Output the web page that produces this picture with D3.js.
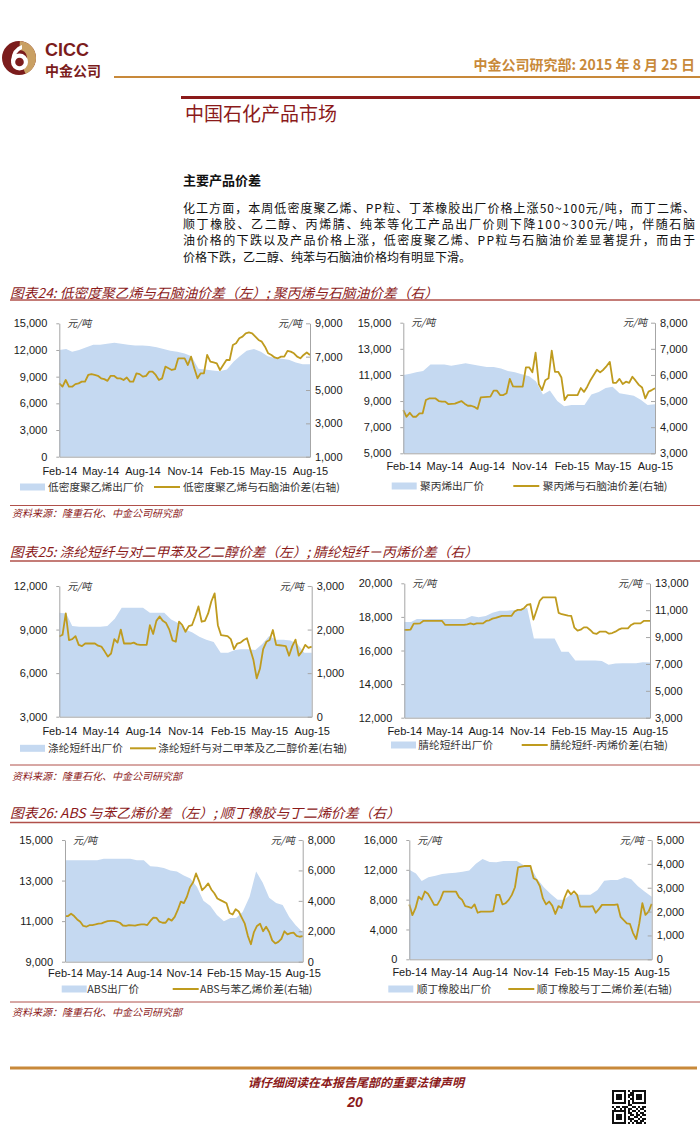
<!DOCTYPE html>
<html>
<head>
<meta charset="utf-8">
<script src="https://cdn.jsdelivr.net/npm/d3@7"></script>
<style>
  body { margin: 0; background: #fff; }
  svg { display: block; }
</style>
</head>
<body>
<div id="page"></div>
<script>
// ---- x categories ----
const monthLabels = ["Feb-14", "May-14", "Aug-14", "Nov-14", "Feb-15", "May-15", "Aug-15"];
const halfMonths = d3.range(37).map(i => new Date(2014, 1 + (i >> 1), i % 2 ? 16 : 1));
const weeks = d3.range(79).map(i => d3.timeDay.offset(new Date(2014, 1, 1), i * 7));

// ---- chart 24 left: LDPE ----
const ldpePrice = [12000,12100,11800,12000,12300,12600,12600,12700,12800,12700,12600,12500,12500,12450,12300,12100,11900,11800,11600,11300,9900,9800,9700,9600,9800,10700,11300,11900,12100,11800,11300,11100,11000,10900,10600,10400,10400];
const ldpeSpread = [5400,5200,5600,5200,5200,5350,5400,5500,5500,5900,
  5950,5900,5850,5700,5650,5550,5850,5850,5700,5700,
  5600,5750,5500,5500,6000,5950,5800,5850,6100,6100,
  5900,5600,5700,6400,6300,6200,6250,6900,6900,6900,
  6500,7000,6300,5700,6000,6000,7100,6700,6650,6600,
  6200,6500,6800,6800,7700,7800,8100,8200,8400,8450,
  8400,8200,8000,7900,7600,7200,7100,6950,6900,7000,
  7000,7350,7300,7200,7000,6900,7100,7250,7100];
const ldpeTicks = [0, 3000, 6000, 9000, 12000, 15000];
const ldpeSpreadTicks = [1000, 3000, 5000, 7000, 9000];

// ---- chart 24 right: PP ----
const ppPrice = [11000,11100,11200,11300,11800,11800,11800,11700,11800,11900,11800,11700,11600,11600,11500,11300,11200,11050,10900,10500,9500,9800,9000,8600,8700,8700,8700,9500,9700,10000,10100,9600,9500,9400,9100,8700,8750];
const ppSpread = [4650,4400,4550,4400,4400,4530,4530,5040,5100,5100,
  5100,5000,4980,4980,4880,4890,4900,4950,5000,4900,
  4820,4820,4780,4700,5140,5150,5160,5170,5400,5400,
  5230,5230,5300,5850,5560,5550,5550,5550,6290,6290,
  6100,6850,5650,5420,5800,5870,6930,6120,6120,5900,
  5040,5230,5230,5230,5230,5500,5350,5550,5800,6000,
  6200,6100,6200,6340,6500,5700,5700,5850,5650,5740,
  5700,5930,5780,5620,5520,5100,5360,5420,5490];
const ppTicks = [5000, 7000, 9000, 11000, 13000, 15000];
const ppSpreadTicks = [3000, 4000, 5000, 6000, 7000, 8000];

// ---- chart 25 left: polyester staple fibre ----
const psfPrice = [10150,10100,9250,9200,9200,9200,9200,9250,9750,10500,10500,10500,10500,10150,10150,10150,9700,9450,9000,8800,8500,8300,8150,7400,7400,7600,7650,7650,7600,8000,8550,8300,8300,8250,8000,7400,7400];
const psfSpread = [1840,1880,2370,1760,1780,1850,1650,1620,1680,1680,
  1680,1680,1630,1610,1500,1380,1450,1780,1700,2000,
  1680,1680,1680,1700,1660,1650,1650,1650,2100,1900,
  2200,2300,2200,2150,2000,1750,1720,2180,2100,1950,
  2080,2100,2300,2530,2180,2200,2370,2650,2830,2100,
  1870,1860,1850,1780,1550,1680,1700,1760,1800,1550,
  1300,880,1100,1550,1720,1760,1990,1650,1640,1630,
  1620,1400,1620,1770,1400,1500,1650,1580,1610];
const psfTicks = [3000, 6000, 9000, 12000];
const psfSpreadTicks = [0, 1000, 2000, 3000];

// ---- chart 25 right: acrylic staple fibre ----
const acrylicPrice = [17700,17700,17880,17880,17880,17880,17880,17880,17880,17880,18050,17980,18050,18250,18370,18370,18400,18400,18550,16720,16720,16720,16720,15930,15930,15400,15400,15400,15400,15380,15150,15230,15240,15240,15240,15300,15280];
const acrylicSpread = [9530,9530,9560,10000,10000,10020,10200,10200,10200,10200,
  10200,10200,10200,9900,9900,9900,9900,9900,9900,9900,
  9950,10020,9950,10020,10020,10020,10200,10250,10370,10420,
  10500,10570,10570,10570,10570,10900,11020,11020,11150,11390,
  11460,10300,11000,11700,11960,11960,11960,11960,11960,10800,
  10700,10650,10600,10570,9700,9480,9550,9720,9720,9530,
  9300,9230,9400,9400,9400,9250,9300,9400,9550,9650,
  9650,9650,9900,10020,10020,10020,10200,10200,10200];
const acrylicTicks = [12000, 14000, 16000, 18000, 20000];
const acrylicSpreadTicks = [3000, 5000, 7000, 9000, 11000, 13000];

// ---- chart 26 left: ABS ----
const absPrice = [14000,14000,14000,14000,14000,14000,14080,14080,14080,14080,14080,14000,14000,13700,13680,13620,13500,13450,13250,13100,12700,12000,11750,11300,11000,11150,11150,11450,12200,13450,12900,12150,11900,11800,11200,10800,10450];
const absSpread = [3000,3000,3150,3000,2780,2630,2350,2300,2400,2410,
  2450,2500,2520,2600,2670,2680,2680,2630,2560,2380,
  2350,2410,2390,2370,2420,2460,2460,2410,2680,2900,
  2880,2630,2560,2560,2830,2700,2950,3400,3950,3850,
  4270,4900,5200,5800,5300,4700,4900,5150,4750,4500,
  4150,4050,3950,3840,3200,3100,3450,3300,2900,2500,
  1700,1150,1950,2350,2500,2000,2300,1950,1400,1200,
  1300,1500,2000,1800,1880,1910,1700,1640,1680];
const absTicks = [9000, 11000, 13000, 15000];
const absSpreadTicks = [0, 2000, 4000, 6000, 8000];

// ---- chart 26 right: butadiene rubber ----
const brPrice = [12000,11500,10500,11000,11200,11450,11530,11620,11750,11900,12800,13450,13050,13000,13180,13180,13180,12650,12400,10800,9650,8800,7980,7980,8800,8650,8650,8650,9300,10550,10640,10640,11000,10750,9800,9100,8400];
const brSpread = [2300,1850,2140,2630,2500,2840,2750,2520,2280,2280,
  2510,2840,2840,2840,2840,2840,2600,2490,2230,2200,
  2150,2300,1950,2000,2000,2000,2000,2020,2700,2700,
  2300,2350,2490,2700,3020,3850,3880,3910,3910,3910,
  3400,3320,3070,2550,2300,2420,2250,1900,2230,2150,
  2600,2900,2720,2850,2700,2210,2210,2210,2210,2230,
  1950,2100,2280,2280,2280,2280,2280,2300,1780,1640,
  1510,1480,1100,850,1500,2350,1860,2000,2320];
const brTicks = [0, 4000, 8000, 12000, 16000];
const brSpreadTicks = [0, 1000, 2000, 3000, 4000, 5000];

const legendNames = [
  ["低密度聚乙烯出厂价", "低密度聚乙烯与石脑油价差(右轴)"],
  ["聚丙烯出厂价", "聚丙烯与石脑油价差(右轴)"],
  ["涤纶短纤出厂价", "涤纶短纤与对二甲苯及乙二醇价差(右轴)"],
  ["腈纶短纤出厂价", "腈纶短纤-丙烯价差(右轴)"],
  ["ABS出厂价", "ABS与苯乙烯价差(右轴)"],
  ["顺丁橡胶出厂价", "顺丁橡胶与丁二烯价差(右轴)"]
];
const figureTitles = [
  "图表24: 低密度聚乙烯与石脑油价差（左）; 聚丙烯与石脑油价差（右）",
  "图表25: 涤纶短纤与对二甲苯及乙二醇价差（左）; 腈纶短纤－丙烯价差（右）",
  "图表26: ABS 与苯乙烯价差（左）; 顺丁橡胶与丁二烯价差（右）"
];
const paragraph = [
  "化工方面，本周低密度聚乙烯、PP粒、丁苯橡胶出厂价格上涨50~100元/吨，而丁二烯、",
  "顺丁橡胶、乙二醇、丙烯腈、纯苯等化工产品出厂价则下降100~300元/吨，伴随石脑",
  "油价格的下跌以及产品价格上涨，低密度聚乙烯、PP粒与石脑油价差显著提升，而由于",
  "价格下跌，乙二醇、纯苯与石脑油价格均有明显下滑。"
];
const qrRows = [
  "11111110101111111","10000010011000001","10111010111011101","10111010101011101",
  "10111010011011101","10000010101000001","11111110101111111","00000000110000000",
  "10110111001101011","01001010110010110","11111110101101001","10000010110010110",
  "10111010011011011","10111010100110100","10111010111001011","10000010010110110",
  "11111110101011101"
];

// ---- page ----
const W = 700, H = 1134;
const CJK = "'Noto Sans CJK SC', sans-serif";
const NUM = "'Liberation Sans', Arial, sans-serif";
const RED = "#8B1A1A", ORANGE = "#C8893A", AREA = "#C5D9F1", LINE = "#BF9B1E", AXIS = "#A6A6A6";

const svg = d3.select("#page").append("svg").attr("width", W).attr("height", H);

// logo
const logo = svg.append("g").attr("transform", "translate(19,58)");
logo.append("circle").attr("r", 17).attr("fill", "#7B1C1C");
logo.append("path")
  .attr("d", d3.arc().innerRadius(8).outerRadius(17).startAngle(0.05).endAngle(2.75)())
  .attr("fill", "#C9A063");
logo.append("circle").attr("cx", 0.5).attr("cy", 4).attr("r", 8.5).attr("fill", "#fff");
logo.append("circle").attr("cx", 0.5).attr("cy", 4).attr("r", 4.3).attr("fill", "#7B1C1C");
logo.append("path").attr("d", "M-8,3 Q-7,-10 3,-13 L3,-9 Q-4,-6 -4,3 Z").attr("fill", "#fff");
svg.append("text").attr("x", 45).attr("y", 55.5).text("CICC")
  .style("font-family", NUM).style("font-weight", "bold").style("font-size", "18px").attr("fill", "#7B1C1C");
svg.append("text").attr("x", 45).attr("y", 76).text("中金公司")
  .style("font-family", CJK).style("font-weight", "bold").style("font-size", "14px").attr("fill", "#7B1C1C");

// header
svg.append("text").attr("x", 695).attr("y", 70).attr("text-anchor", "end")
  .text("中金公司研究部: 2015 年 8 月 25 日")
  .style("font-family", CJK).style("font-weight", "bold").style("font-size", "14px").attr("fill", ORANGE);
svg.append("line").attr("x1", 114).attr("x2", 700).attr("y1", 77).attr("y2", 77)
  .attr("stroke", ORANGE).attr("stroke-width", 2);
svg.append("line").attr("x1", 181).attr("x2", 700).attr("y1", 97.5).attr("y2", 97.5)
  .attr("stroke", RED).attr("stroke-width", 3);
svg.append("text").attr("x", 185).attr("y", 121).text("中国石化产品市场")
  .style("font-family", CJK).style("font-size", "19px").attr("fill", RED);
svg.append("text").attr("x", 183).attr("y", 185).text("主要产品价差")
  .style("font-family", CJK).style("font-weight", "bold").style("font-size", "13px").attr("fill", "#111");

// body paragraph: one text block, justified lines as tspans
const para = svg.append("text")
  .style("font-family", CJK).style("font-size", "12px").attr("fill", "#111");
para.selectAll("tspan").data(paragraph).enter().append("tspan")
  .attr("x", 183)
  .attr("y", (d, i) => 213 + i * 16.2)
  .attr("textLength", (d, i) => i < paragraph.length - 1 ? 512 : null)
  .attr("lengthAdjust", "spacing")
  .text(d => d);

// figure titles and separators
const sections = [
  { titleY: 293, lineY: 300, srcLineY: 505.5, srcY: 513, titleEnd: 438 },
  { titleY: 552.5, lineY: 561, srcLineY: 765, srcY: 776, titleEnd: 478 },
  { titleY: 813, lineY: 822.5, srcLineY: 1002, srcY: 1012, titleEnd: 400 }
];
sections.forEach((s, i) => {
  svg.append("text").attr("x", 10).attr("y", s.titleY).attr("dy", "0.35em")
    .attr("textLength", s.titleEnd - 10).attr("lengthAdjust", "spacingAndGlyphs")
    .text(figureTitles[i])
    .style("font-family", CJK).style("font-style", "italic").style("font-size", "13.5px").attr("fill", RED);
  svg.append("line").attr("x1", 10).attr("x2", 700).attr("y1", s.lineY).attr("y2", s.lineY)
    .attr("stroke", "#B0504A").attr("stroke-width", 1.3);
  svg.append("line").attr("x1", 10).attr("x2", 700).attr("y1", s.srcLineY).attr("y2", s.srcLineY)
    .attr("stroke", "#B0504A").attr("stroke-width", 1);
  svg.append("text").attr("x", 12).attr("y", s.srcY).attr("dy", "0.35em")
    .text("资料来源：隆重石化、中金公司研究部")
    .style("font-family", CJK).style("font-style", "italic").style("font-size", "10px").attr("fill", RED);
});

// charts
const charts = [
  { area: ldpePrice, line: ldpeSpread, lt: ldpeTicks, rt: ldpeSpreadTicks,
    x0: 59.3, x1: 310, yTop: 323.3, yBot: 456.7, xLab: 471, legY: 487, sw1: 20, t1: 48, sw2: 154, t2: 183 },
  { area: ppPrice, line: ppSpread, lt: ppTicks, rt: ppSpreadTicks,
    x0: 403.3, x1: 655, yTop: 322.7, yBot: 453.3, xLab: 466, legY: 486, sw1: 391.7, t1: 420, sw2: 513.3, t2: 542.7 },
  { area: psfPrice, line: psfSpread, lt: psfTicks, rt: psfSpreadTicks,
    x0: 59.3, x1: 311.7, yTop: 586, yBot: 716.7, xLab: 730.7, legY: 748.3, sw1: 20, t1: 48, sw2: 130, t2: 158.3 },
  { area: acrylicPrice, line: acrylicSpread, lt: acrylicTicks, rt: acrylicSpreadTicks,
    x0: 404.3, x1: 650, yTop: 583.3, yBot: 717.7, xLab: 730.7, legY: 745, sw1: 391, t1: 418.3, sw2: 521.7, t2: 550 },
  { area: absPrice, line: absSpread, lt: absTicks, rt: absSpreadTicks,
    x0: 65, x1: 302.7, yTop: 840, yBot: 961.7, xLab: 973.3, legY: 989, sw1: 61.7, t1: 87.3, sw2: 172.7, t2: 200 },
  { area: brPrice, line: brSpread, lt: brTicks, rt: brSpreadTicks,
    x0: 409.3, x1: 651.7, yTop: 840, yBot: 959.3, xLab: 971.7, legY: 989, sw1: 388.3, t1: 416.7, sw2: 508.3, t2: 536.7 }
];

const parseMonth = d3.timeParse("%b-%y");
const monthTicks = monthLabels.map(parseMonth);

charts.forEach((c, ci) => {
  const g = svg.append("g");
  const x = d3.scaleTime().domain([halfMonths[0], halfMonths[halfMonths.length - 1]]).range([c.x0, c.x1]);
  const yL = d3.scaleLinear().domain([c.lt[0], c.lt[c.lt.length - 1]]).range([c.yBot, c.yTop]);
  const yR = d3.scaleLinear().domain([c.rt[0], c.rt[c.rt.length - 1]]).range([c.yBot, c.yTop]);

  g.append("path").datum(c.area)
    .attr("d", d3.area().x((d, i) => x(halfMonths[i])).y0(c.yBot).y1(d => yL(d)))
    .attr("fill", AREA);

  g.append("path").datum(c.line)
    .attr("d", d3.line().x((d, i) => x(weeks[i])).y(d => yR(d)))
    .attr("fill", "none").attr("stroke", LINE).attr("stroke-width", 1.8)
    .attr("stroke-linejoin", "round");

  // bottom axis
  const xa = g.append("g").attr("transform", `translate(0,${c.yBot})`)
    .call(d3.axisBottom(x).tickValues(monthTicks).tickFormat((d, i) => monthLabels[i]).tickSize(0));
  xa.selectAll("text").attr("y", c.xLab - c.yBot).attr("dy", "0.35em");

  // left axis
  const la = g.append("g").attr("transform", `translate(${c.x0},0)`)
    .call(d3.axisLeft(yL).tickValues(c.lt).tickFormat(d3.format(",")).tickSizeInner(3).tickSizeOuter(0).tickPadding(9));

  // right axis
  const ra = g.append("g").attr("transform", `translate(${c.x1},0)`)
    .call(d3.axisRight(yR).tickValues(c.rt).tickFormat(d3.format(",")).tickSizeInner(-4).tickSizeOuter(0).tickPadding(5));

  [xa, la, ra].forEach(a => {
    a.select(".domain").attr("stroke", AXIS);
    a.selectAll(".tick line").attr("stroke", AXIS);
    a.selectAll("text").style("font-family", NUM).style("font-size", "11px").attr("fill", "#1a1a1a");
  });

  // unit labels
  g.append("text").attr("x", c.x0 + 8).attr("y", c.yTop).attr("dy", "0.35em").text("元/吨")
    .style("font-family", CJK).style("font-style", "italic").style("font-size", "10px").attr("fill", "#333");
  g.append("text").attr("x", c.x1 - 8).attr("y", c.yTop).attr("dy", "0.35em").attr("text-anchor", "end").text("元/吨")
    .style("font-family", CJK).style("font-style", "italic").style("font-size", "10px").attr("fill", "#333");

  // legend
  g.append("rect").attr("x", c.sw1).attr("y", c.legY - 3.5).attr("width", 25).attr("height", 7).attr("fill", AREA);
  g.append("text").attr("x", c.t1).attr("y", c.legY).attr("dy", "0.35em").text(legendNames[ci][0])
    .style("font-family", CJK).style("font-size", "10.7px").attr("fill", "#333");
  g.append("line").attr("x1", c.sw2).attr("x2", c.sw2 + 26).attr("y1", c.legY).attr("y2", c.legY)
    .attr("stroke", LINE).attr("stroke-width", 2);
  g.append("text").attr("x", c.t2).attr("y", c.legY).attr("dy", "0.35em").text(legendNames[ci][1])
    .style("font-family", CJK).style("font-size", "10.7px").attr("fill", "#333");
});

// footer
svg.append("line").attr("x1", 10).attr("x2", 697).attr("y1", 1068).attr("y2", 1068)
  .attr("stroke", ORANGE).attr("stroke-width", 3);
svg.append("text").attr("x", 356).attr("y", 1083).attr("dy", "0.35em").attr("text-anchor", "middle")
  .text("请仔细阅读在本报告尾部的重要法律声明")
  .style("font-family", CJK).style("font-weight", "bold").style("font-style", "italic").style("font-size", "12px").attr("fill", RED);
svg.append("text").attr("x", 355).attr("y", 1102).attr("dy", "0.35em").attr("text-anchor", "middle")
  .text("20")
  .style("font-family", NUM).style("font-weight", "bold").style("font-style", "italic").style("font-size", "14px").attr("fill", RED);

const qr = svg.append("g").attr("transform", "translate(612,1090)");
qrRows.forEach((row, r) => {
  row.split("").forEach((v, col) => {
    if (v === "1") qr.append("rect").attr("x", col * 2).attr("y", r * 2).attr("width", 2).attr("height", 2).attr("fill", "#111");
  });
});
</script>
</body>
</html>
